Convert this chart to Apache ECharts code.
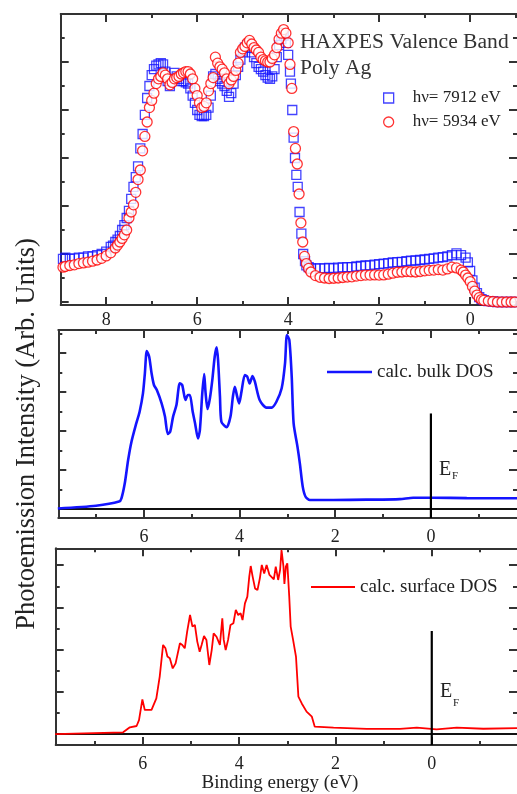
<!DOCTYPE html>
<html><head><meta charset="utf-8">
<script src="https://cdn.jsdelivr.net/npm/echarts@6/dist/echarts.min.js"></script>
<style>html,body{margin:0;padding:0;background:#fff}#c{width:517px;height:794px}</style>
</head><body><div id="c"></div>
<script>
// ---------- DATA (binding energy eV, intensity in arb. units) ----------
const seriesNames = ['hν= 7912 eV', 'hν= 5934 eV', 'calc. bulk DOS', 'calc. surface DOS'];

const haxpes7912 = [[8.95,1.8],[8.9,1.85],[8.8,1.8],[8.7,1.82],[8.6,1.85],[8.5,1.85],[8.4,1.9],[8.3,1.9],[8.2,1.95],[8.1,2.0],[8.0,2.1],[7.9,2.3],[7.85,2.35],[7.8,2.5],[7.75,2.6],[7.7,2.75],[7.65,3.0],[7.6,3.2],[7.55,3.5],[7.5,3.8],[7.45,4.3],[7.4,4.8],[7.35,5.2],[7.3,5.65],[7.25,6.4],[7.2,7.0],[7.15,7.8],[7.1,8.5],[7.05,9.0],[7.0,9.45],[6.95,9.7],[6.9,9.85],[6.85,9.9],[6.8,9.95],[6.75,9.9],[6.7,9.6],[6.65,9.2],[6.6,9.0],[6.55,9.3],[6.5,9.55],[6.45,9.4],[6.4,9.3],[6.35,9.2],[6.3,9.2],[6.25,9.15],[6.2,9.1],[6.15,8.9],[6.1,8.6],[6.05,8.3],[6.0,8.0],[5.95,7.8],[5.9,7.75],[5.85,7.75],[5.8,7.8],[5.75,8.1],[5.7,8.6],[5.65,9.4],[5.6,9.5],[5.55,9.3],[5.5,9.2],[5.45,9.1],[5.4,9.0],[5.35,8.8],[5.3,8.55],[5.25,8.7],[5.2,9.1],[5.15,9.45],[5.1,9.8],[5.05,10.1],[5.0,10.4],[4.95,10.6],[4.9,10.7],[4.85,10.6],[4.8,10.4],[4.75,10.2],[4.7,9.95],[4.65,9.8],[4.6,9.7],[4.55,9.6],[4.5,9.45],[4.45,9.35],[4.4,9.3],[4.35,9.4],[4.3,9.7],[4.25,10.2],[4.2,10.7],[4.15,10.95],[4.1,11.1],[4.05,10.8],[4.0,10.3],[3.96,9.6],[3.94,9.1],[3.91,8.0],[3.88,6.85],[3.85,6.0],[3.82,5.3],[3.79,4.8],[3.75,3.75],[3.71,2.85],[3.67,2.0],[3.63,1.7],[3.6,1.53],[3.55,1.45],[3.5,1.4],[3.4,1.4],[3.3,1.4],[3.2,1.4],[3.1,1.42],[3.0,1.4],[2.9,1.43],[2.8,1.44],[2.7,1.45],[2.6,1.45],[2.5,1.48],[2.4,1.5],[2.3,1.52],[2.2,1.53],[2.1,1.56],[2.0,1.58],[1.9,1.6],[1.8,1.62],[1.7,1.65],[1.6,1.66],[1.5,1.67],[1.4,1.7],[1.3,1.72],[1.2,1.73],[1.1,1.75],[1.0,1.77],[0.9,1.8],[0.8,1.82],[0.7,1.85],[0.6,1.87],[0.5,1.9],[0.4,1.95],[0.3,2.03],[0.2,1.95],[0.1,1.85],[0.05,1.65],[0.0,1.3],[-0.05,0.9],[-0.1,0.6],[-0.15,0.37],[-0.2,0.2],[-0.25,0.12],[-0.3,0.08],[-0.4,0.04],[-0.5,0.02],[-0.6,0],[-0.7,0],[-0.8,0],[-0.9,0],[-0.98,0]];

const haxpes5934 = [[8.95,1.45],[8.9,1.48],[8.8,1.52],[8.7,1.55],[8.6,1.6],[8.5,1.63],[8.4,1.66],[8.3,1.7],[8.2,1.75],[8.1,1.82],[8.0,1.92],[7.9,2.05],[7.8,2.25],[7.75,2.37],[7.7,2.5],[7.65,2.65],[7.6,2.8],[7.55,3.0],[7.5,3.5],[7.45,3.75],[7.4,4.05],[7.35,4.57],[7.3,5.1],[7.25,5.5],[7.2,6.3],[7.15,6.9],[7.1,7.5],[7.05,8.1],[7.0,8.4],[6.95,8.7],[6.9,9.1],[6.85,9.3],[6.8,9.4],[6.75,9.55],[6.7,9.45],[6.65,9.3],[6.6,9.05],[6.55,9.15],[6.5,9.3],[6.45,9.35],[6.4,9.4],[6.35,9.5],[6.3,9.55],[6.25,9.6],[6.2,9.6],[6.15,9.5],[6.1,9.3],[6.05,8.9],[6.0,8.6],[5.95,8.3],[5.9,8.1],[5.85,8.15],[5.8,8.3],[5.75,8.8],[5.7,9.1],[5.65,9.35],[5.6,10.2],[5.55,9.95],[5.5,9.8],[5.45,9.7],[5.4,9.55],[5.35,9.3],[5.3,9.1],[5.25,9.25],[5.2,9.4],[5.15,9.65],[5.1,9.95],[5.05,10.4],[5.0,10.55],[4.95,10.65],[4.9,10.8],[4.85,10.9],[4.8,10.75],[4.75,10.6],[4.7,10.5],[4.65,10.4],[4.6,10.2],[4.55,10.1],[4.5,10.05],[4.45,10.0],[4.4,10.0],[4.35,10.15],[4.3,10.3],[4.25,10.6],[4.2,10.95],[4.15,11.2],[4.1,11.35],[4.05,11.2],[4.0,10.8],[3.96,9.9],[3.92,8.9],[3.88,7.1],[3.84,6.4],[3.8,5.75],[3.76,4.5],[3.72,3.3],[3.68,2.5],[3.64,1.9],[3.6,1.6],[3.55,1.4],[3.5,1.25],[3.4,1.1],[3.3,1.03],[3.2,1.0],[3.1,0.98],[3.0,0.99],[2.9,1.0],[2.8,1.02],[2.7,1.04],[2.6,1.05],[2.5,1.08],[2.4,1.1],[2.3,1.12],[2.2,1.12],[2.1,1.13],[2.0,1.12],[1.9,1.13],[1.8,1.16],[1.7,1.2],[1.6,1.24],[1.5,1.25],[1.4,1.27],[1.3,1.26],[1.2,1.25],[1.1,1.27],[1.0,1.3],[0.9,1.32],[0.8,1.33],[0.7,1.35],[0.6,1.33],[0.5,1.38],[0.4,1.45],[0.3,1.42],[0.2,1.33],[0.15,1.25],[0.1,1.12],[0.05,1.0],[0.0,0.85],[-0.05,0.65],[-0.1,0.45],[-0.15,0.29],[-0.2,0.18],[-0.25,0.1],[-0.3,0.07],[-0.4,0.04],[-0.5,0.02],[-0.6,0],[-0.7,0],[-0.8,0],[-0.9,0],[-0.98,0]];

const bulkDOS = [[7.8,0.03],[7.0,0.17],[6.52,0.38],[6.47,0.55],[6.40,1.32],[6.33,2.51],[6.26,3.45],[6.16,4.39],[6.09,4.99],[6.02,5.93],[5.98,6.96],[5.94,8.1],[5.89,7.81],[5.84,6.96],[5.79,6.36],[5.73,6.10],[5.63,5.42],[5.56,4.74],[5.50,3.85],[5.45,3.97],[5.39,4.74],[5.32,5.33],[5.25,6.45],[5.20,6.36],[5.13,5.59],[5.08,5.85],[5.04,5.85],[4.98,4.99],[4.93,4.39],[4.87,3.62],[4.83,4.05],[4.78,5.93],[4.74,6.92],[4.71,5.93],[4.67,5.13],[4.62,5.68],[4.57,6.62],[4.52,7.81],[4.48,8.29],[4.45,7.64],[4.41,5.76],[4.38,4.48],[4.27,4.19],[4.19,4.74],[4.14,5.76],[4.10,6.27],[4.05,5.76],[4.01,5.42],[3.96,6.02],[3.89,6.87],[3.84,6.79],[3.79,6.44],[3.73,6.82],[3.68,6.53],[3.58,5.59],[3.44,5.20],[3.33,5.20],[3.23,5.50],[3.12,6.19],[3.05,7.47],[3.01,8.92],[2.96,8.67],[2.91,6.79],[2.87,4.39],[2.79,3.20],[2.74,2.34],[2.68,1.15],[2.62,0.63],[2.53,0.46],[2.04,0.46],[1.35,0.48],[0.65,0.51],[0.37,0.58],[-0.05,0.58],[-0.75,0.56],[-1.8,0.55]];

const surfaceDOS = [[7.82,0],[6.41,0.08],[6.27,0.32],[6.13,0.38],[6.08,0.66],[6.01,1.64],[5.96,1.14],[5.82,1.14],[5.72,1.69],[5.65,2.72],[5.58,4.22],[5.53,4.06],[5.49,3.67],[5.44,3.59],[5.38,3.11],[5.32,3.35],[5.23,4.30],[5.18,4.22],[5.13,4.06],[5.08,4.85],[5.02,5.64],[4.97,5.09],[4.92,5.17],[4.87,4.38],[4.82,3.90],[4.78,4.22],[4.73,4.64],[4.68,4.46],[4.62,3.27],[4.57,3.98],[4.53,4.77],[4.47,4.61],[4.40,4.22],[4.35,5.48],[4.32,4.46],[4.28,3.98],[4.23,4.46],[4.18,5.17],[4.12,5.25],[4.07,5.88],[4.02,5.64],[3.97,5.72],[3.93,5.40],[3.88,6.19],[3.83,6.51],[3.79,7.46],[3.76,7.96],[3.72,7.46],[3.67,6.90],[3.62,6.82],[3.57,7.38],[3.53,8.01],[3.48,7.61],[3.43,8.01],[3.37,7.54],[3.33,7.46],[3.28,7.33],[3.24,7.93],[3.19,7.30],[3.15,7.77],[3.12,8.72],[3.08,7.93],[3.06,7.11],[3.03,7.93],[3.00,8.09],[2.96,6.51],[2.93,5.09],[2.88,4.46],[2.82,3.67],[2.77,1.77],[2.70,1.45],[2.60,1.06],[2.49,0.82],[2.43,0.35],[2.04,0.30],[1.35,0.24],[0.66,0.24],[0.31,0.30],[-0.10,0.22],[-0.52,0.30],[-1.07,0.25],[-1.77,0.28]];

const fermiLevel = 0;           // E_F position (eV)
const fermiMarkerTopBulk = 4.9; // height of E_F marker, middle panel
const fermiMarkerTopSurf = 4.88;// height of E_F marker, bottom panel

// axis ranges and ticks
const topRangeX = [-1.03, 9.0], topRangeY = [-0.125, 12];
const midRangeX = [-1.8, 7.79], midRangeY = [-0.46, 9.18];
const botRangeX = [-1.77, 7.81], botRangeY = [-0.52, 8.8];
const topXMajor = [0,2,4,6,8], topXMinor = [-1,1,3,5,7,9], topXLabels = [0,2,4,6,8];
const topYMajor = [0,2,4,6,8,10,12], topYMinor = [1,3,5,7,9,11];
const dosXMajor = [0,2,4,6], dosXMinor = [-1,1,3,5,7], dosXLabels = [0,2,4,6];
const midYMajor = [0,2,4,6,8], midYMinor = [1,3,5,7,9];
const botYMajor = [0,2,4,6,8], botYMinor = [1,3,5,7];

// ---------- STYLE ----------
const FONT = '"Liberation Serif","Times New Roman",serif';
const AX = '#333333', TXT = '#222222';
const BLUE = '#1414ff', RED = '#ff0000';
const SQUARE_ICON = 'path://M0,0H10V10H0Z';

function xAxes(g, range, major, minor, labels, margin) {
  const base = {type:'value', gridIndex:g, min:range[0], max:range[1], inverse:true,
    splitLine:{show:false}, axisLabel:{show:false}};
  const tick = (vals, len) => ({show:true, inside:true, length:len, customValues:vals, lineStyle:{color:AX, width:2}});
  return [
    Object.assign({}, base, {position:'bottom', axisLine:{show:true,onZero:false,lineStyle:{color:AX,width:2}},
      axisTick:tick(major,8), axisLabel:{show:true, customValues:labels, margin:margin, fontFamily:FONT, fontSize:18, color:TXT}}),
    Object.assign({}, base, {position:'bottom', axisLine:{show:false,onZero:false}, axisTick:tick(minor,4)}),
    Object.assign({}, base, {position:'top', axisLine:{show:true,onZero:false,lineStyle:{color:AX,width:2}}, axisTick:tick(major,8)}),
    Object.assign({}, base, {position:'top', axisLine:{show:false,onZero:false}, axisTick:tick(minor,4)})
  ];
}
function yAxes(g, range, major, minor) {
  const base = {type:'value', gridIndex:g, min:range[0], max:range[1],
    splitLine:{show:false}, axisLabel:{show:false}};
  const tick = (vals, len) => ({show:true, inside:true, length:len, customValues:vals, lineStyle:{color:AX, width:2}});
  return [
    Object.assign({}, base, {position:'left', axisLine:{show:true,onZero:false,lineStyle:{color:AX,width:2}}, axisTick:tick(major,8)}),
    Object.assign({}, base, {position:'left', axisLine:{show:false,onZero:false}, axisTick:tick(minor,4)}),
    Object.assign({}, base, {position:'right', axisLine:{show:false,onZero:false}, axisTick:tick(major,8)}),
    Object.assign({}, base, {position:'right', axisLine:{show:false,onZero:false}, axisTick:tick(minor,4)})
  ];
}

const chart = echarts.init(document.getElementById('c'), null, {renderer:'canvas'});
const option = {
  animation:false,
  backgroundColor:'#ffffff',
  grid:[
    {left:60.7, right:0, top:14, height:291, outerBoundsMode:'none'},
    {left:58.3, right:0, top:330, height:188, outerBoundsMode:'none'},
    {left:55.7, right:0, top:548.3, height:196.7, outerBoundsMode:'none'}
  ],
  xAxis:[].concat(
    xAxes(0, topRangeX, topXMajor, topXMinor, topXLabels, 6.5),
    xAxes(1, midRangeX, dosXMajor, dosXMinor, dosXLabels, 10.5),
    xAxes(2, botRangeX, dosXMajor, dosXMinor, dosXLabels, 10.5)
  ),
  yAxis:[].concat(
    yAxes(0, topRangeY, topYMajor, topYMinor),
    yAxes(1, midRangeY, midYMajor, midYMinor),
    yAxes(2, botRangeY, botYMajor, botYMinor)
  ),
  legend:[
    {data:[{name:seriesNames[0], icon:SQUARE_ICON}, {name:seriesNames[1], icon:'circle'}], orient:'vertical',
     left:383, top:89.5, itemWidth:38, itemHeight:10, itemGap:7, symbolKeepAspect:true,
     itemStyle:{borderWidth:1.3}, padding:0, selectedMode:false, textStyle:{fontFamily:FONT, fontSize:17, color:TXT}},
    {data:[{name:seriesNames[2], icon:'rect'}], left:327, top:362.5, itemWidth:45, itemHeight:2.6, padding:0, selectedMode:false,
     textStyle:{fontFamily:FONT, fontSize:19, color:TXT}},
    {data:[{name:seriesNames[3], icon:'rect'}], left:311, top:577.5, itemWidth:44, itemHeight:1.8, padding:0, selectedMode:false,
     textStyle:{fontFamily:FONT, fontSize:19, color:TXT}}
  ],
  series:[
    {name:seriesNames[0], type:'scatter', xAxisIndex:0, yAxisIndex:0, data:haxpes7912, symbol:'rect', symbolSize:9,
     itemStyle:{color:'rgba(0,0,0,0)', borderColor:BLUE, borderWidth:1.3}},
    {name:seriesNames[1], type:'scatter', xAxisIndex:0, yAxisIndex:0, data:haxpes5934, symbol:'circle', symbolSize:10,
     itemStyle:{color:'#ffffff', borderColor:RED, borderWidth:1.3}},
    {name:'baseline-bulk', type:'line', xAxisIndex:4, yAxisIndex:4, data:[[midRangeX[1],0],[midRangeX[0],0]],
     symbol:'none', lineStyle:{color:'#111', width:2}, silent:true},
    {name:seriesNames[2], type:'line', xAxisIndex:4, yAxisIndex:4, data:bulkDOS, symbol:'none', smooth:0.25,
     lineStyle:{color:BLUE, width:2.6}, itemStyle:{color:BLUE}},
    {name:'EF-bulk', type:'line', xAxisIndex:4, yAxisIndex:4, data:[[fermiLevel,fermiMarkerTopBulk],[fermiLevel,midRangeY[0]]],
     symbol:'none', lineStyle:{color:'#000', width:2.2}, silent:true},
    {name:'baseline-surf', type:'line', xAxisIndex:8, yAxisIndex:8, data:[[botRangeX[1],0],[botRangeX[0],0]],
     symbol:'none', lineStyle:{color:'#111', width:2}, silent:true},
    {name:seriesNames[3], type:'line', xAxisIndex:8, yAxisIndex:8, data:surfaceDOS, symbol:'none',
     lineStyle:{color:RED, width:1.8}, itemStyle:{color:RED}},
    {name:'EF-surf', type:'line', xAxisIndex:8, yAxisIndex:8, data:[[fermiLevel,fermiMarkerTopSurf],[fermiLevel,botRangeY[0]]],
     symbol:'none', lineStyle:{color:'#000', width:2.2}, silent:true}
  ],
  graphic:[
    {type:'text', x:300, y:42, style:{text:'HAXPES Valence Band', fontFamily:FONT, fontSize:21.6, fill:'#333', textAlign:'left', textVerticalAlign:'middle', align:'left', verticalAlign:'middle'}},
    {type:'text', x:300, y:68.5, style:{text:'Poly Ag', fontFamily:FONT, fontSize:21.6, fill:'#333', textAlign:'left', textVerticalAlign:'middle', align:'left', verticalAlign:'middle'}},
    {type:'text', x:439, y:469.5, style:{text:'E', fontFamily:FONT, fontSize:20, fill:TXT, textAlign:'left', textVerticalAlign:'middle', align:'left', verticalAlign:'middle'}},
    {type:'text', x:452, y:476.5, style:{text:'F', fontFamily:FONT, fontSize:11, fill:TXT, textAlign:'left', textVerticalAlign:'middle', align:'left', verticalAlign:'middle'}},
    {type:'text', x:440, y:692, style:{text:'E', fontFamily:FONT, fontSize:20, fill:TXT, textAlign:'left', textVerticalAlign:'middle', align:'left', verticalAlign:'middle'}},
    {type:'text', x:453, y:703, style:{text:'F', fontFamily:FONT, fontSize:11, fill:TXT, textAlign:'left', textVerticalAlign:'middle', align:'left', verticalAlign:'middle'}},
    {type:'text', x:280, y:783, style:{text:'Binding energy (eV)', fontFamily:FONT, fontSize:19, fill:TXT, textAlign:'center', textVerticalAlign:'middle', align:'center', verticalAlign:'middle'}},
    {type:'text', x:27.5, y:434, rotation:Math.PI/2, style:{text:'Photoemission Intensity (Arb. Units)', fontFamily:FONT, fontSize:26.5, fill:TXT, textAlign:'center', textVerticalAlign:'middle', align:'center', verticalAlign:'middle'}}
  ]
};
chart.setOption(option);
</script></body></html>
